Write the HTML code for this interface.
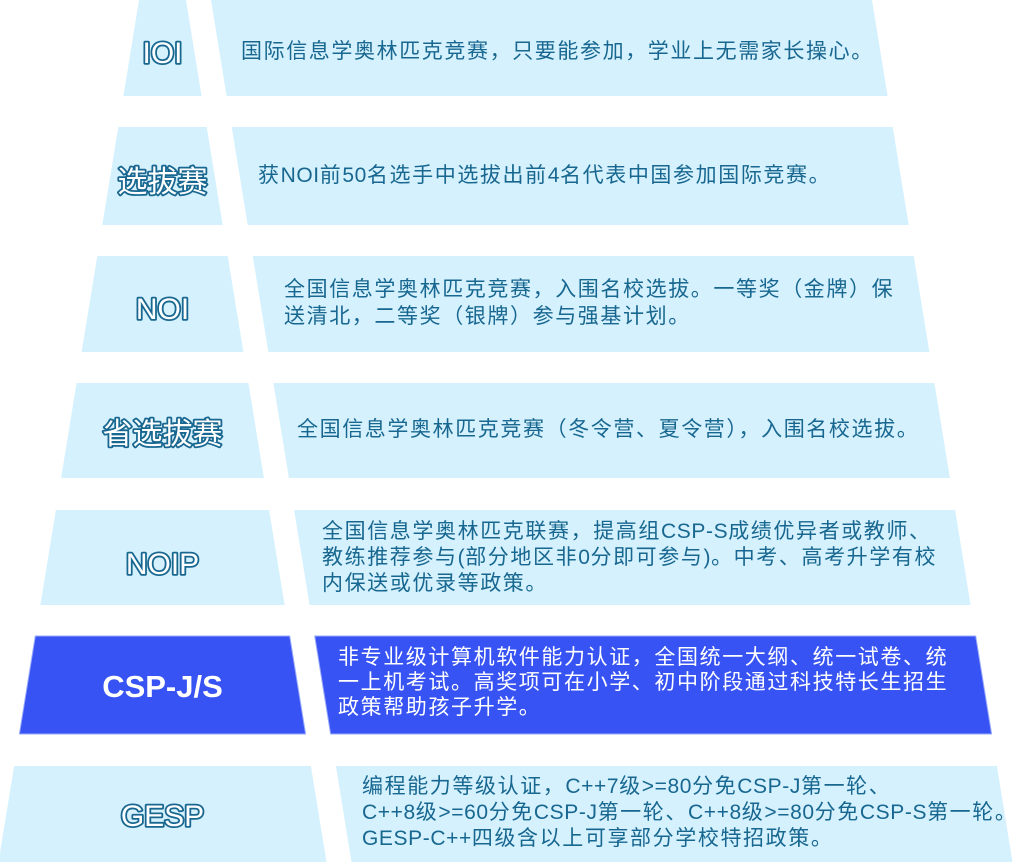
<!DOCTYPE html>
<html>
<head>
<meta charset="utf-8">
<style>
  html, body { margin:0; padding:0; background:#ffffff; }
  body { width:1014px; height:862px; position:relative; overflow:hidden; }
  svg { position:absolute; left:0; top:0; }
  .t {
    position:absolute;
    font-family:"Liberation Sans","Noto Sans CJK SC",sans-serif;
    font-size:21px;
    line-height:26px;
    letter-spacing:1.6px;
    color:#186790;
    white-space:nowrap;
  }
  .t span.l { letter-spacing:0.6px; }
  .w { color:#ffffff; }
</style>
</head>
<body>
<svg width="1014" height="862" viewBox="0 0 1014 862" xmlns="http://www.w3.org/2000/svg">
  <g fill="#d4f1fd">
    <polygon points="139,0 186,0 201.6,96 123.4,96"/>
    <polygon points="211,0 872,0 887.6,96 226.6,96"/>
    <polygon points="118.3,127 206.7,127 222.7,225 102.3,225"/>
    <polygon points="231.7,127 892.7,127 908.7,225 247.7,225"/>
    <polygon points="97.3,256 227.7,256 243.4,352 81.6,352"/>
    <polygon points="252.7,256 913.7,256 929.4,352 268.4,352"/>
    <polygon points="76.6,383 248.4,383 263.9,478 61.1,478"/>
    <polygon points="273.4,383 934.4,383 949.9,478 288.9,478"/>
    <polygon points="55.9,510 269.1,510 284.6,605 40.4,605"/>
    <polygon points="294.1,510 955.1,510 970.6,605 309.6,605"/>
    <polygon points="14.1,766 310.9,766 326.5,862 -1.5,862"/>
    <polygon points="335.9,766 996.9,766 1012.5,862 351.5,862"/>
  </g>
  <g fill="#3753f4" stroke="#9aabfa" stroke-width="1">
    <polygon points="35.3,636 289.7,636 305.6,734 19.4,734"/>
    <polygon points="314.7,636 975.7,636 991.6,734 330.6,734"/>
  </g>

  <g font-family="'Liberation Sans','Noto Sans CJK SC',sans-serif" font-size="30" fill="#ffffff" stroke="#186790" stroke-width="3.6" stroke-linejoin="round" paint-order="stroke" text-anchor="middle">
    <text x="162.5" y="63">IOI</text>
    <text x="162.5" y="192">选拔赛</text>
    <text x="162.5" y="319">NOI</text>
    <text x="162.5" y="444">省选拔赛</text>
    <text x="162.5" y="574">NOIP</text>
    <text x="162.5" y="826">GESP</text>
  </g>
  <text x="162.5" y="697" text-anchor="middle" font-family="'Liberation Sans','Noto Sans CJK SC',sans-serif" font-size="31" font-weight="bold" fill="#ffffff">CSP-J/S</text>
</svg>

<div class="t" style="left:241px; top:39px;">国际信息学奥林匹克竞赛，只要能参加，学业上无需家长操心。</div>

<div class="t" style="left:258px; top:163px;">获<span class="l">NOI</span>前<span class="l">50</span>名选手中选拔出前<span class="l">4</span>名代表中国参加国际竞赛。</div>

<div class="t" style="left:284px; top:276px; line-height:27px;">全国信息学奥林匹克竞赛，入围名校选拔。一等奖（金牌）保<br>送清北，二等奖（银牌）参与强基计划。</div>

<div class="t" style="left:297px; top:417px;">全国信息学奥林匹克竞赛（冬令营、夏令营），入围名校选拔。</div>

<div class="t" style="left:322px; top:519px;">全国信息学奥林匹克联赛，提高组<span class="l">CSP-S</span>成绩优异者或教师、<br>教练推荐参与<span class="l">(</span>部分地区非<span class="l">0</span>分即可参与<span class="l">)</span>。中考、高考升学有校<br>内保送或优录等政策。</div>

<div class="t w" style="left:338px; top:645px; line-height:25px;">非专业级计算机软件能力认证，全国统一大纲、统一试卷、统<br>一上机考试。高奖项可在小学、初中阶段通过科技特长生招生<br>政策帮助孩子升学。</div>

<div class="t" style="left:362px; top:774px;">编程能力等级认证，<span class="l">C++7</span>级<span class="l">&gt;=80</span>分免<span class="l">CSP-J</span>第一轮、<br><span class="l">C++8</span>级<span class="l">&gt;=60</span>分免<span class="l">CSP-J</span>第一轮、<span class="l">C++8</span>级<span class="l">&gt;=80</span>分免<span class="l">CSP-S</span>第一轮。<br><span class="l">GESP-C++</span>四级含以上可享部分学校特招政策。</div>
</body>
</html>
